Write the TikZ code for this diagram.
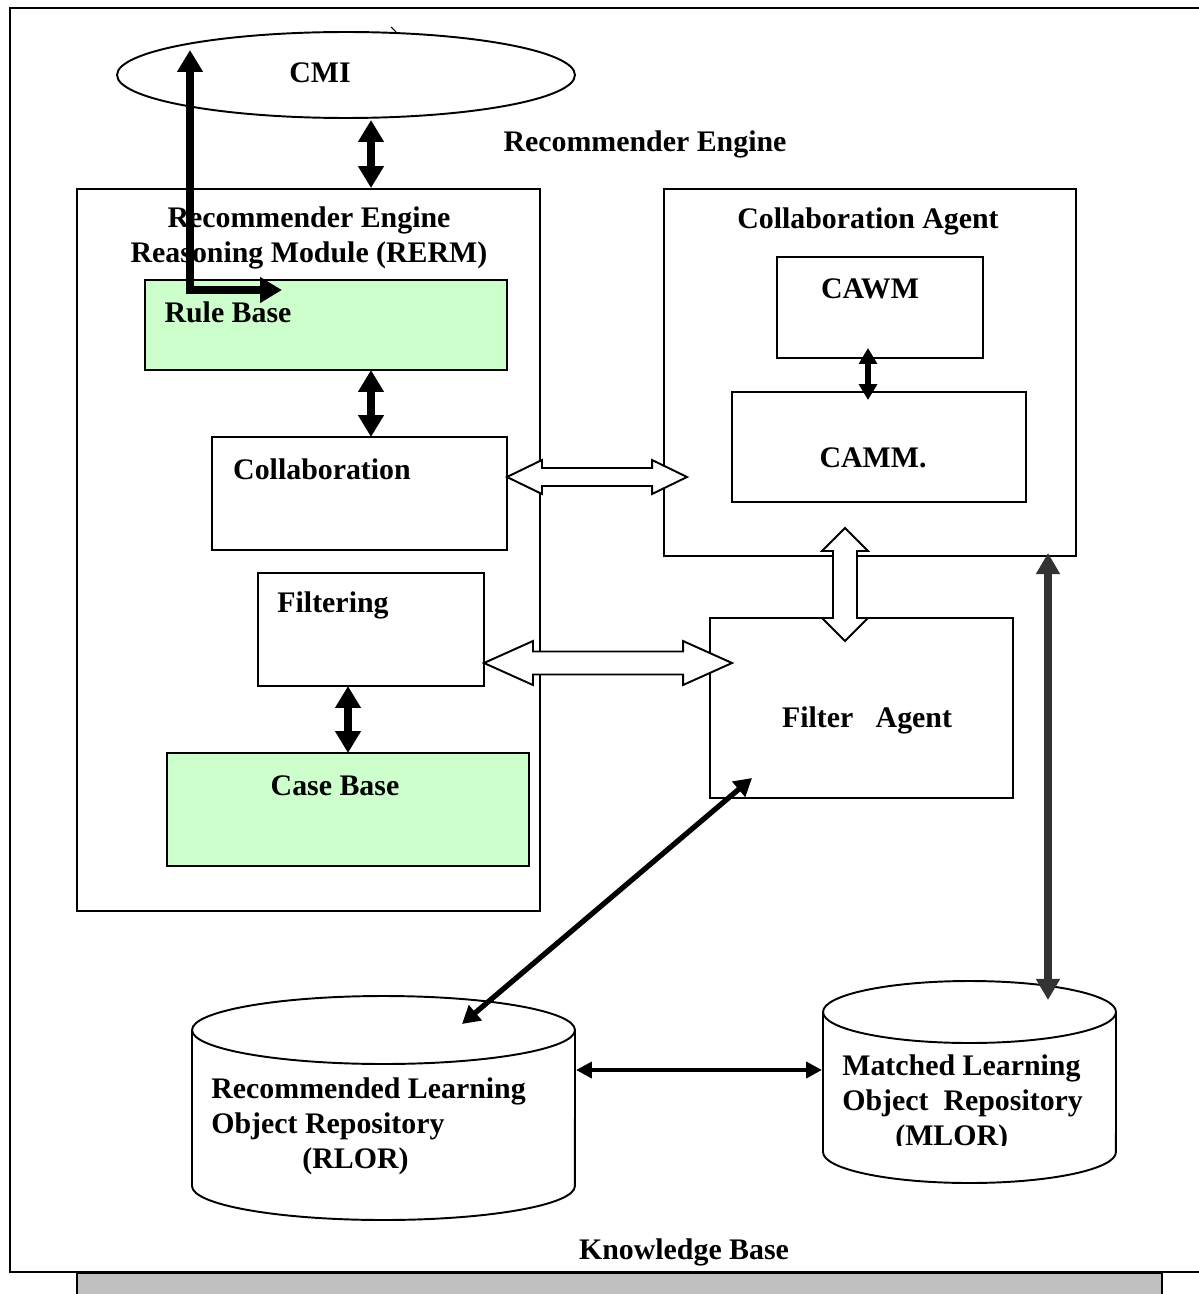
\documentclass[tikz,border=0pt]{standalone}
\usepackage{fontspec}
\setmainfont{Liberation Serif}
\usetikzlibrary{arrows.meta,calc,shapes.geometric}
\definecolor{kbgreen}{HTML}{CCFFCC}
\definecolor{kbgray}{HTML}{C0C0C0}
\definecolor{darkarrow}{HTML}{333333}
\tikzset{
  lbl/.style={font=\bfseries\fontsize{17}{20}\selectfont, inner sep=0pt, yshift=-0.06cm},
  box/.style={draw, line width=1.1pt, inner sep=0pt, outer sep=0pt},
  store/.style={draw, line width=1.1pt},
  hollow/.style={draw=black, fill=white, line width=1.1pt, line join=miter},
  bigarrow/.style={line width=4pt, {Triangle[width=14pt,length=12.5pt]}-{Triangle[width=14pt,length=12.5pt]}},
  midarrow/.style={line width=3pt, {Triangle[width=10pt,length=9pt]}-{Triangle[width=10pt,length=9pt]}},
  diagarrow/.style={line width=3pt, {Triangle[width=11pt,length=10pt]}-{Triangle[width=11pt,length=10pt]}},
  linkarrow/.style={line width=2.2pt, {Triangle[width=9pt,length=9pt]}-{Triangle[width=9pt,length=9pt]}},
  grayarrow/.style={line width=4.5pt, darkarrow, {Triangle[width=13pt,length=12pt]}-{Triangle[width=13pt,length=12pt]}}
}
% hollow double block arrows: #1 first tip, #2 second tip, #3 half shaft, #4 half head, #5 head length
\newcommand{\hollowH}[5]{%
  \filldraw[hollow] let \p1=(#1), \p2=(#2) in
    (\x1,\y1) -- (\x1+#5,\y1+#4) -- (\x1+#5,\y1+#3) -- (\x2-#5,\y1+#3)
    -- (\x2-#5,\y1+#4) -- (\x2,\y1) -- (\x2-#5,\y1-#4) -- (\x2-#5,\y1-#3)
    -- (\x1+#5,\y1-#3) -- (\x1+#5,\y1-#4) -- cycle;}
\newcommand{\hollowV}[5]{%
  \filldraw[hollow] let \p1=(#1), \p2=(#2) in
    (\x1,\y1) -- (\x1+#4,\y1-#5) -- (\x1+#3,\y1-#5) -- (\x1+#3,\y2+#5)
    -- (\x1+#4,\y2+#5) -- (\x1,\y2) -- (\x1-#4,\y2+#5) -- (\x1-#3,\y2+#5)
    -- (\x1-#3,\y1-#5) -- (\x1-#4,\y1-#5) -- cycle;}
\begin{document}
\begin{tikzpicture}[x=0.02cm,y=-0.02cm]
\useasboundingbox (0,0) rectangle (1199,1294);

% outer frame and shadow strip
\fill[kbgray] (77,1273) rectangle (1162,1300);
\draw[line width=0.8pt] (77,1300) -- (77,1273) -- (1162,1273) -- (1162,1300);
\draw[line width=1.2pt] (1205,8) -- (10,8) -- (10,1272) -- (1205,1272);

% CMI
\node[box, ellipse, minimum width=9.16cm, minimum height=1.72cm] (cmi) at (346,75) {};
\draw[line width=0.6pt] (391,27) -- (396,32);

% reasoning module
\node[box, minimum width=9.26cm, minimum height=14.44cm] (rerm) at (308.5,550) {};
\node[box, fill=kbgreen, minimum width=7.24cm, minimum height=1.8cm] (rule) at (326,325) {};
\node[box, minimum width=5.9cm, minimum height=2.26cm] (coll) at (359.5,493.5) {};
\node[box, minimum width=4.52cm, minimum height=2.26cm] (filt) at (371,629.5) {};
\node[box, fill=kbgreen, minimum width=7.24cm, minimum height=2.26cm] (case) at (348,809.5) {};

% agents
\node[box, minimum width=8.24cm, minimum height=7.34cm] (colag) at (870,372.5) {};
\node[box, minimum width=4.12cm, minimum height=2.02cm] (cawm) at (880,307.5) {};
\node[box, minimum width=5.88cm, minimum height=2.2cm] (camm) at (879,447) {};
\node[box, minimum width=6.06cm, minimum height=3.6cm] (filag) at (861.5,708) {};

% repositories
\draw[store] (192,1030) -- (192,1186) arc[start angle=180, end angle=360, x radius=3.83cm, y radius=0.68cm] -- (575,1030);
\draw[store] (383.5,1030) ellipse[x radius=3.83cm, y radius=0.68cm];
\node[inner sep=0pt, minimum width=7.66cm, minimum height=4.5cm] (rlor) at (383.5,1108) {};
\draw[store] (823,1012) -- (823,1152) arc[start angle=180, end angle=360, x radius=2.93cm, y radius=0.62cm] -- (1116,1012);
\draw[store] (969.5,1012) ellipse[x radius=2.93cm, y radius=0.62cm];
\node[inner sep=0pt, minimum width=5.86cm, minimum height=4.06cm] (mlor) at (969.5,1082) {};

% hollow block arrows
\coordinate (h1a) at ($(coll.east)+(0,-16.5)$);
\coordinate (h1b) at ($(colag.west |- h1a)+(23,0)$);
\hollowH{h1a}{h1b}{0.18cm}{0.34cm}{0.7cm}
\coordinate (h2a) at ($(filt.east)+(0,33.5)$);
\coordinate (h2b) at ($(filag.west |- h2a)+(22,0)$);
\hollowH{h2a}{h2b}{0.23cm}{0.44cm}{0.98cm}
\coordinate (v1a) at ($(camm.south)+(-34,26)$);
\coordinate (v1b) at ($(filag.north -| v1a)+(0,23)$);
\hollowV{v1a}{v1b}{0.24cm}{0.46cm}{0.46cm}

% labels
\node[lbl] (tcmi) at (320,70) {CMI};
\node[lbl] (tre) at (645,141) {Recommender Engine};
\node[lbl, align=center] (trerm) at (309,235) {Recommender Engine\\Reasoning Module (RERM)};
\node[lbl] (trule) at (228,309) {Rule Base};
\node[lbl] (tcoll) at (322,466) {Collaboration};
\node[lbl] (tfilt) at (333,602) {Filtering};
\node[lbl] (tcase) at (335,783) {Case Base};
\node[lbl] (tcolag) at (868,218) {Collaboration Agent};
\node[lbl] (tcawm) at (870,286) {CAWM};
\node[lbl] (tcamm) at (873,455) {CAMM.};
\node[lbl] (tfilag) at (867,717) {Filter\ \ \ Agent};
\node[lbl, align=left, anchor=west] (trlor) at (211,1123) {Recommended Learning\\Object Repository\\\hspace*{1.82cm}(RLOR)};
\begin{scope}
  \clip (830,1040) rectangle (1110,1145);
  \node[lbl, align=left, anchor=west] (tmlor) at (842,1100) {Matched Learning\\Object\ \ Repository\\\hspace*{1.06cm}(MLOR)};
\end{scope}
\node[lbl] (tkb) at (684,1249) {Knowledge Base};

% solid connectors
\coordinate (xa) at (371,0);
\draw[bigarrow] ($(cmi.south -| xa)+(0,2)$) -- ($(rerm.north -| xa)+(0,-1)$);
\draw[bigarrow] (rule.south -| xa) -- (coll.north -| xa);
\coordinate (xb) at (868,0);
\draw[midarrow] ($(cawm.south -| xb)+(0,-10)$) -- ($(camm.north -| xb)+(0,8)$);
\draw[bigarrow] (filt.south -| case.north) -- (case.north);
\coordinate (lcorner) at (190,290);
\coordinate (ltop) at (190,50);
\coordinate (lright) at (282,290);
\draw[bigarrow, line join=miter] (lright) -- (lcorner) -- (ltop);
\coordinate (dfa) at (752,778);
\coordinate (drl) at (462,1024);
\draw[diagarrow] (dfa) -- (drl);
\coordinate (hr1) at (576,1070);
\coordinate (hr2) at (822,1070);
\draw[linkarrow] (hr1) -- (hr2);
\coordinate (xg) at (1048,0);
\coordinate (gend) at (1048,1000);
\draw[grayarrow] ($(colag.south -| xg)+(0,-3)$) -- (gend);
\end{tikzpicture}
\end{document}
